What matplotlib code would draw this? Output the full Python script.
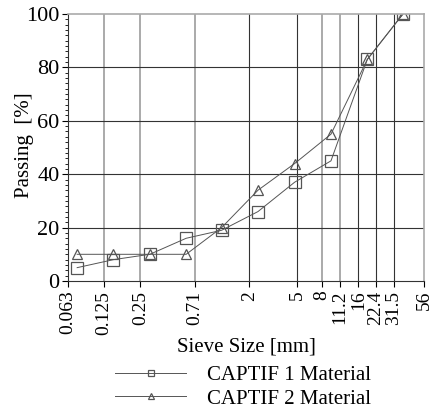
import matplotlib
matplotlib.use('Agg')
import matplotlib.pyplot as plt
from matplotlib.ticker import FixedLocator, MultipleLocator, NullLocator

plt.rcParams['font.family'] = ['Liberation Serif', 'DejaVu Serif']

# sieve sizes of the measured points [mm]
sieve = [0.075, 0.15, 0.3, 0.6, 1.18, 2.36, 4.75, 9.5, 19.0, 37.5]
captif1 = [5, 8, 10, 16, 19, 26, 37, 45, 83, 100]
captif2 = [10, 10, 10, 10, 20, 34, 44, 55, 83, 100]

tick_vals = [0.063, 0.125, 0.25, 0.71, 2, 5, 8, 11.2, 16, 22.4, 31.5, 56]
tick_labels = ['0.063', '0.125', '0.25', '0.71', '2', '5', '8', '11.2', '16', '22.4', '31.5', '56']
light_grid = [0.125, 0.25, 0.71, 8, 11.2]
dark_grid = [2, 5, 16, 22.4, 31.5]

fig = plt.figure(figsize=(4.34, 4.12), dpi=100)
ax = fig.add_axes([68/434, 1-281/412, 356/434, 267/412])

ax.set_xscale('log')
ax.set_xlim(0.063, 56)
ax.set_ylim(0, 100)

for v in light_grid:
    ax.axvline(v, color='#aaaaaa', lw=1.4, zorder=0)
for v in dark_grid:
    ax.axvline(v, color='#333333', lw=0.8, zorder=0)
for v in [20, 40, 60, 80]:
    ax.axhline(v, color='#333333', lw=0.8, zorder=0)

l1, = ax.plot(sieve, captif1, color='#555555', lw=0.7, marker='s', ms=8,
              mfc='none', mec='#555555', mew=0.9, label='CAPTIF 1 Material')
l2, = ax.plot(sieve, captif2, color='#555555', lw=0.7, marker='^', ms=7,
              mfc='none', mec='#555555', mew=0.9, label='CAPTIF 2 Material')

ax.xaxis.set_major_locator(FixedLocator(tick_vals))
ax.xaxis.set_minor_locator(NullLocator())
ax.set_xticklabels(tick_labels, rotation=90, fontsize=14)
ax.yaxis.set_major_locator(MultipleLocator(20))
ax.yaxis.set_minor_locator(MultipleLocator(2))
ax.tick_params(axis='y', labelsize=16, length=4, width=0.8, pad=2)
ax.tick_params(axis='y', which='minor', length=2, width=0.6)
ax.tick_params(axis='x', length=4, width=0.8, pad=3)

for s in ['top', 'right']:
    ax.spines[s].set_color('#aaaaaa')
    ax.spines[s].set_linewidth(1.2)
for s in ['left', 'bottom']:
    ax.spines[s].set_color('#333333')
    ax.spines[s].set_linewidth(0.8)

ax.set_ylabel('Passing  [%]', fontsize=15)
ax.yaxis.set_label_coords(-0.096, 0.51)
ax.set_xlabel('Sieve Size [mm]', fontsize=15, labelpad=2)

fig.legend(handles=[l1, l2], loc='upper left', bbox_to_anchor=(105/434, 1-355/412),
           frameon=False, fontsize=15, handlelength=3.4, handletextpad=1.0,
           markerscale=0.6, labelspacing=0.2, borderpad=0)

fig.savefig('out.png', dpi=100)
